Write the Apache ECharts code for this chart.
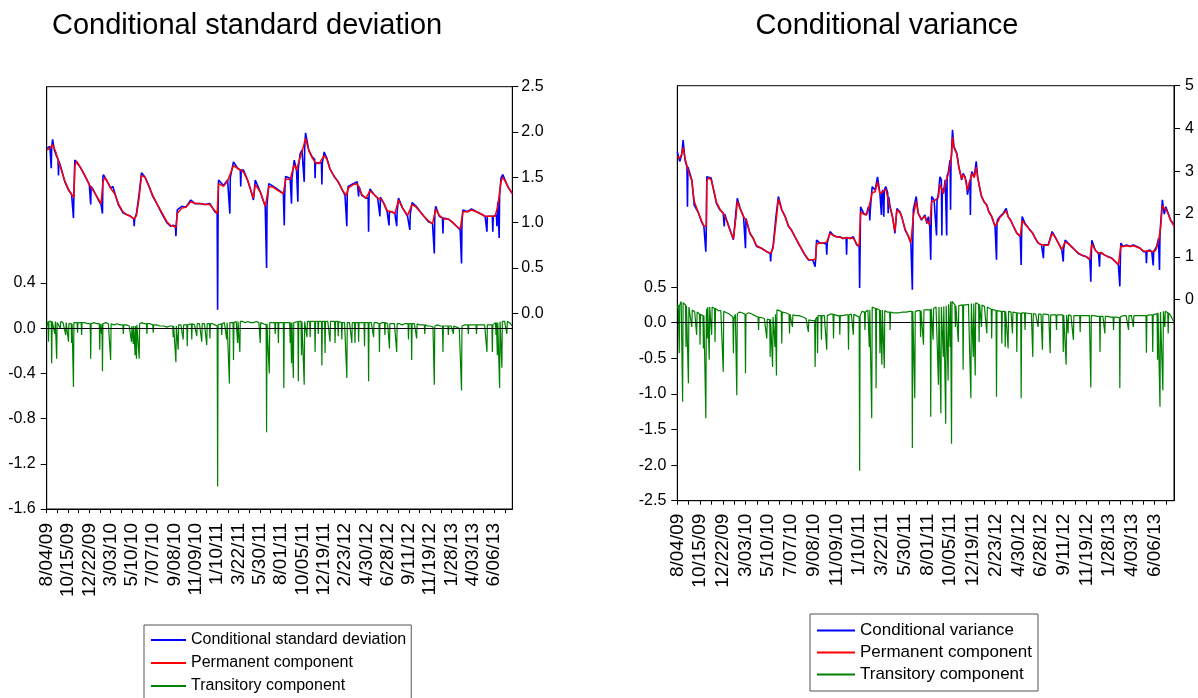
<!DOCTYPE html>
<html>
<head>
<meta charset="utf-8">
<script src="https://cdn.jsdelivr.net/npm/echarts@6/dist/echarts.min.js"></script>
<style>
html,body{margin:0;padding:0;background:#fff;}
#chart{width:1198px;height:698px;}
</style>
</head>
<body>
<div id="chart"></div>
<script>
// ---- x axis: observation number (trading days), labelled every 47 observations ----
const dateLabels = ['8/04/09','10/15/09','12/22/09','3/03/10','5/10/10','7/07/10','9/08/10','11/09/10',
  '1/10/11','3/22/11','5/30/11','8/01/11','10/05/11','12/19/11','2/23/12','4/30/12','6/28/12',
  '9/11/12','11/19/12','1/28/13','4/03/13','6/06/13'];
const LABEL_STEP = 47;
const LAST_OBS = 1027;

// ---- Panel 1: conditional standard deviation  [observation, value] ----
const sdCond = [[0,1.82],[7,1.84],[10,1.60],[11,1.84],[13,1.92],[17,1.80],[22,1.73],[25,1.70],[26,1.52],[27,1.68],[33,1.58],[40,1.45],[48,1.36],[55,1.31],[58,1.30],[59,1.05],[60,1.30],[62,1.69],[66,1.70],[73,1.62],[85,1.51],[94,1.42],[96,1.41],[97,1.20],[98,1.40],[103,1.36],[114,1.25],[120,1.20],[122,1.18],[123,1.10],[124,1.50],[125,1.53],[132,1.47],[141,1.38],[146,1.40],[151,1.31],[158,1.20],[168,1.11],[176,1.09],[185,1.07],[192,1.04],[193,0.96],[194,1.04],[198,1.10],[204,1.32],[209,1.55],[217,1.50],[224,1.42],[234,1.29],[243,1.21],[254,1.10],[265,1.00],[273,0.96],[279,0.97],[284,0.96],[285,0.85],[286,0.96],[288,1.14],[298,1.18],[307,1.17],[318,1.25],[327,1.21],[338,1.21],[349,1.20],[360,1.21],[371,1.12],[376,1.10],[377,0.04],[378,1.10],[379,1.47],[390,1.41],[399,1.47],[403,1.47],[404,1.10],[405,1.50],[412,1.67],[421,1.60],[427,1.58],[428,1.40],[429,1.58],[434,1.58],[443,1.47],[450,1.36],[456,1.25],[460,1.47],[471,1.34],[482,1.18],[484,1.18],[485,0.50],[486,1.20],[490,1.43],[500,1.40],[511,1.36],[522,1.32],[523,1.32],[524,0.97],[525,1.32],[527,1.51],[537,1.49],[539,1.49],[540,1.21],[541,1.49],[546,1.69],[551,1.58],[553,1.58],[554,1.23],[555,1.60],[559,1.76],[563,1.80],[567,1.80],[568,1.45],[569,1.82],[571,1.99],[578,1.80],[585,1.73],[591,1.70],[592,1.49],[593,1.66],[601,1.66],[606,1.66],[607,1.42],[608,1.66],[612,1.78],[618,1.71],[625,1.59],[634,1.51],[643,1.45],[652,1.36],[658,1.30],[661,1.30],[662,0.96],[663,1.32],[665,1.40],[676,1.43],[685,1.45],[687,1.43],[688,1.29],[689,1.40],[695,1.30],[704,1.27],[709,1.27],[710,0.90],[711,1.30],[713,1.37],[722,1.31],[730,1.27],[734,1.27],[735,1.07],[736,1.28],[744,1.21],[751,1.12],[754,1.12],[755,0.97],[756,1.12],[761,1.12],[768,1.10],[771,1.10],[772,0.96],[773,1.12],[776,1.27],[785,1.16],[796,1.07],[800,1.07],[801,0.92],[802,1.10],[806,1.22],[815,1.18],[824,1.12],[832,1.07],[842,1.01],[851,0.99],[854,0.99],[855,0.66],[856,1.10],[858,1.18],[866,1.07],[873,1.05],[874,0.88],[875,1.05],[876,1.04],[886,1.04],[896,1.00],[904,0.96],[912,0.92],[914,0.92],[915,0.55],[916,1.00],[918,1.14],[928,1.12],[937,1.15],[948,1.12],[960,1.09],[967,1.07],[970,1.07],[971,0.90],[972,1.07],[978,1.07],[983,1.07],[984,0.90],[985,1.07],[989,1.08],[992,1.08],[993,0.96],[994,1.10],[995,1.23],[997,1.23],[998,0.83],[999,1.30],[1002,1.49],[1006,1.53],[1011,1.47],[1018,1.39],[1027,1.32]];

const sdPerm = [[0,1.80],[7,1.82],[13,1.86],[20,1.78],[27,1.66],[33,1.57],[40,1.46],[48,1.37],[55,1.31],[60,1.28],[62,1.62],[66,1.68],[73,1.62],[85,1.51],[94,1.42],[103,1.35],[114,1.26],[120,1.21],[124,1.45],[128,1.50],[132,1.47],[141,1.38],[151,1.31],[158,1.21],[168,1.12],[176,1.09],[185,1.07],[193,1.04],[198,1.08],[204,1.28],[209,1.52],[217,1.50],[224,1.42],[234,1.30],[243,1.21],[254,1.11],[265,1.01],[273,0.97],[279,0.96],[285,0.95],[288,1.10],[298,1.16],[307,1.17],[318,1.23],[327,1.21],[338,1.21],[349,1.20],[360,1.20],[371,1.13],[376,1.10],[379,1.43],[390,1.40],[399,1.46],[412,1.63],[421,1.60],[434,1.56],[443,1.47],[450,1.36],[456,1.27],[460,1.42],[471,1.34],[482,1.18],[486,1.18],[490,1.40],[500,1.39],[511,1.35],[522,1.32],[527,1.48],[537,1.48],[546,1.64],[551,1.58],[559,1.72],[563,1.78],[571,1.93],[578,1.80],[585,1.72],[593,1.66],[601,1.65],[612,1.74],[618,1.70],[625,1.59],[634,1.51],[643,1.45],[652,1.36],[661,1.30],[665,1.38],[676,1.42],[685,1.43],[695,1.31],[704,1.27],[713,1.35],[722,1.31],[730,1.27],[737,1.26],[744,1.21],[751,1.13],[761,1.12],[768,1.10],[776,1.25],[785,1.16],[796,1.08],[806,1.20],[815,1.17],[824,1.12],[832,1.07],[842,1.02],[851,0.99],[858,1.15],[866,1.08],[876,1.04],[886,1.04],[896,1.00],[904,0.96],[912,0.93],[918,1.12],[928,1.12],[937,1.14],[948,1.12],[960,1.09],[967,1.07],[978,1.07],[989,1.07],[995,1.18],[1002,1.45],[1006,1.50],[1011,1.46],[1018,1.39],[1027,1.32]];

const sdTrans = [[0,0.02],[3,0.06],[4,-0.12],[5,0.06],[8,0.07],[10,0.06],[11,-0.31],[12,0.06],[16,0.05],[18,-0.05],[19,0.06],[21,0.05],[22,-0.27],[23,0.05],[27,0.06],[30,0.00],[31,0.06],[36,0.05],[40,0.04],[42,-0.06],[43,0.05],[47,0.04],[48,-0.12],[49,0.04],[54,0.04],[55,-0.13],[56,0.04],[58,0.03],[59,-0.52],[60,0.05],[64,0.06],[67,0.05],[68,-0.04],[69,0.05],[73,0.05],[76,0.05],[77,-0.06],[78,0.05],[84,0.05],[90,0.04],[96,0.04],[97,-0.27],[98,0.04],[104,0.05],[110,0.04],[116,0.04],[117,-0.19],[118,0.04],[120,0.04],[121,-0.05],[122,0.04],[123,-0.38],[124,0.04],[130,0.05],[136,0.04],[140,0.04],[141,-0.28],[142,0.04],[148,0.03],[155,0.04],[162,0.03],[168,0.03],[169,-0.05],[170,0.03],[176,0.03],[182,0.02],[186,0.02],[187,-0.12],[188,0.02],[190,0.02],[191,-0.14],[192,0.02],[194,0.02],[195,-0.24],[196,0.02],[197,0.02],[198,-0.27],[199,0.03],[203,0.03],[204,-0.27],[205,0.04],[210,0.05],[215,0.04],[220,0.04],[221,-0.05],[222,0.04],[228,0.04],[234,0.03],[235,-0.04],[236,0.03],[242,0.03],[250,0.02],[258,0.02],[265,0.01],[272,0.02],[278,0.02],[279,-0.08],[280,0.02],[284,0.02],[285,-0.30],[286,0.02],[289,0.02],[290,-0.19],[291,0.03],[296,0.03],[300,0.03],[301,-0.10],[302,0.03],[306,0.03],[309,0.03],[310,-0.16],[311,0.03],[315,0.04],[319,0.04],[320,-0.10],[321,0.04],[326,0.03],[330,0.03],[331,-0.07],[332,0.04],[337,0.04],[341,0.04],[342,-0.12],[343,0.04],[348,0.04],[352,0.04],[353,-0.15],[354,0.04],[359,0.04],[360,-0.09],[361,0.04],[366,0.04],[371,0.03],[376,0.02],[377,-1.40],[378,0.03],[382,0.04],[385,0.04],[386,-0.06],[387,0.04],[392,0.05],[396,0.05],[397,-0.10],[398,0.05],[402,0.05],[403,-0.49],[404,0.05],[408,0.05],[411,0.05],[412,-0.28],[413,0.05],[418,0.06],[420,0.06],[421,-0.13],[422,0.06],[425,0.06],[426,-0.21],[427,0.06],[432,0.06],[438,0.05],[444,0.06],[450,0.05],[456,0.05],[462,0.06],[468,0.05],[470,0.05],[471,-0.13],[472,0.05],[478,0.04],[484,0.03],[485,-0.92],[486,0.04],[490,0.05],[491,-0.40],[492,0.05],[498,0.05],[503,0.05],[504,-0.05],[505,0.05],[510,0.05],[511,-0.13],[512,0.05],[517,0.05],[522,0.05],[523,-0.53],[524,0.05],[530,0.05],[536,0.05],[537,-0.13],[538,0.05],[539,0.05],[540,-0.31],[541,0.05],[543,0.05],[544,-0.44],[545,0.05],[548,0.06],[554,0.06],[555,-0.47],[556,0.06],[561,0.06],[562,-0.24],[563,0.06],[567,0.06],[568,-0.50],[569,0.06],[573,0.06],[574,-0.08],[575,0.06],[580,0.06],[581,-0.08],[582,0.06],[586,0.07],[591,0.06],[592,-0.21],[593,0.06],[598,0.06],[599,-0.05],[600,0.06],[606,0.06],[607,-0.33],[608,0.06],[613,0.06],[614,-0.22],[615,0.06],[620,0.06],[624,0.06],[625,-0.12],[626,0.06],[630,0.06],[635,0.06],[636,-0.13],[637,0.06],[642,0.06],[643,-0.07],[644,0.06],[650,0.05],[651,-0.10],[652,0.05],[657,0.05],[661,0.05],[662,-0.44],[663,0.05],[668,0.05],[672,0.05],[673,-0.13],[674,0.05],[679,0.05],[680,-0.13],[681,0.05],[687,0.05],[688,-0.12],[689,0.05],[695,0.05],[700,0.05],[701,-0.16],[702,0.05],[706,0.05],[709,0.05],[710,-0.47],[711,0.05],[716,0.05],[720,0.05],[721,-0.08],[722,0.05],[728,0.05],[733,0.04],[734,-0.21],[735,0.04],[740,0.05],[745,0.05],[746,-0.06],[747,0.05],[752,0.04],[755,0.04],[756,-0.18],[757,0.04],[762,0.04],[767,0.04],[771,0.04],[772,-0.21],[773,0.04],[778,0.04],[784,0.03],[790,0.04],[797,0.04],[798,-0.10],[799,0.04],[804,0.04],[805,-0.28],[806,0.04],[811,0.04],[815,0.04],[816,-0.09],[817,0.04],[822,0.03],[828,0.03],[833,0.03],[834,-0.05],[835,0.03],[840,0.02],[846,0.02],[852,0.01],[854,0.01],[855,-0.50],[856,0.02],[862,0.03],[868,0.02],[873,0.02],[874,-0.21],[875,0.02],[880,0.02],[885,0.02],[886,-0.06],[887,0.02],[892,0.02],[896,0.02],[897,-0.05],[898,0.02],[904,0.01],[910,0.00],[914,0.00],[915,-0.55],[916,0.02],[922,0.03],[929,0.03],[930,-0.05],[931,0.03],[937,0.03],[942,0.03],[947,0.03],[948,-0.05],[949,0.03],[955,0.03],[961,0.03],[966,0.03],[970,0.03],[971,-0.21],[972,0.03],[977,0.03],[982,0.03],[983,-0.21],[984,0.03],[990,0.05],[991,-0.06],[992,0.05],[993,0.05],[994,-0.24],[995,0.05],[998,0.05],[999,-0.53],[1000,0.06],[1003,0.06],[1004,-0.35],[1005,0.06],[1010,0.06],[1014,0.06],[1015,-0.05],[1016,0.06],[1021,0.05],[1027,0.02]];

// ---- Panel 2: conditional variance  [observation, value] ----
const varCond = [[0,3.46],[5,3.23],[9,3.38],[12,3.73],[16,3.26],[20,3.10],[21,2.17],[22,3.10],[23,3.07],[30,2.80],[35,2.21],[44,2.02],[50,1.82],[55,1.71],[58,1.70],[59,1.12],[60,1.70],[61,2.87],[64,2.91],[70,2.84],[75,2.56],[81,2.25],[88,2.10],[95,2.02],[96,2.00],[97,1.71],[98,2.00],[102,1.86],[109,1.63],[116,1.40],[121,2.02],[124,2.37],[130,2.13],[137,1.94],[140,1.92],[141,1.20],[142,1.90],[143,1.86],[150,1.55],[157,1.43],[164,1.24],[174,1.20],[185,1.12],[192,1.08],[193,0.89],[194,1.08],[198,1.24],[204,1.94],[209,2.41],[216,2.10],[223,1.94],[230,1.71],[236,1.63],[243,1.47],[254,1.24],[264,1.04],[271,0.93],[280,0.93],[284,0.93],[285,0.77],[286,0.95],[288,1.39],[295,1.32],[302,1.32],[308,1.30],[309,1.05],[310,1.32],[316,1.59],[322,1.51],[329,1.47],[336,1.47],[343,1.43],[349,1.45],[350,1.05],[351,1.45],[357,1.43],[364,1.47],[371,1.28],[376,1.24],[377,0.27],[378,1.24],[379,2.17],[385,2.02],[391,1.98],[395,2.17],[397,2.10],[398,1.85],[399,2.10],[403,2.64],[409,2.56],[414,2.87],[419,2.48],[421,2.48],[422,1.98],[423,2.50],[425,2.56],[427,1.94],[428,2.56],[431,2.64],[435,2.50],[436,2.02],[437,2.40],[440,2.17],[445,1.94],[450,1.55],[454,2.13],[460,2.06],[464,1.94],[471,1.63],[478,1.47],[483,1.32],[485,1.30],[486,0.23],[487,1.40],[488,2.10],[494,2.41],[498,2.02],[505,1.86],[512,1.98],[516,1.78],[519,1.94],[522,1.71],[524,0.93],[525,1.80],[526,2.41],[531,2.33],[535,2.30],[536,1.50],[537,2.30],[540,2.48],[543,2.87],[546,2.80],[547,1.50],[548,2.60],[550,2.48],[554,2.80],[556,2.80],[557,1.50],[558,2.90],[560,2.95],[564,3.26],[565,2.10],[566,3.30],[567,3.42],[569,3.97],[572,3.58],[578,3.42],[582,3.11],[588,2.80],[591,2.95],[595,2.87],[598,2.72],[600,2.45],[605,2.80],[606,1.98],[607,2.85],[609,2.99],[614,2.87],[618,3.23],[621,2.87],[626,2.56],[629,2.41],[634,2.29],[640,2.21],[644,2.06],[650,1.94],[657,1.71],[659,1.71],[660,0.93],[661,1.80],[662,1.86],[667,1.94],[674,2.02],[680,2.13],[684,1.94],[689,1.86],[695,1.71],[702,1.55],[709,1.47],[710,1.45],[711,0.81],[712,1.60],[713,1.94],[719,1.78],[724,1.71],[729,1.63],[735,1.55],[740,1.43],[746,1.32],[753,1.28],[756,1.28],[757,0.97],[758,1.28],[760,1.28],[767,1.28],[775,1.59],[781,1.47],[788,1.32],[795,1.16],[797,1.16],[798,0.89],[799,1.20],[802,1.39],[808,1.32],[815,1.24],[822,1.16],[829,1.08],[836,1.04],[846,1.00],[853,0.93],[854,0.93],[855,0.42],[856,1.00],[857,1.39],[864,1.16],[871,1.08],[872,1.08],[873,0.77],[874,1.10],[877,1.12],[884,1.04],[891,1.00],[898,0.97],[905,0.89],[912,0.81],[914,0.80],[915,0.31],[916,0.90],[917,1.32],[922,1.24],[929,1.28],[936,1.24],[943,1.28],[950,1.24],[957,1.20],[964,1.12],[969,1.12],[970,0.85],[971,1.12],[976,1.16],[981,1.12],[983,1.12],[984,0.80],[985,1.12],[988,1.16],[991,1.24],[995,1.43],[996,1.43],[997,0.69],[998,1.50],[999,1.71],[1003,2.33],[1005,2.13],[1007,2.00],[1010,2.17],[1015,2.02],[1020,1.86],[1027,1.74]];

const varPerm = [[0,3.35],[5,3.30],[9,3.40],[12,3.55],[16,3.30],[23,3.00],[30,2.78],[35,2.30],[44,2.02],[50,1.85],[55,1.72],[60,1.72],[61,2.75],[64,2.85],[70,2.80],[75,2.58],[81,2.28],[88,2.12],[95,2.02],[102,1.85],[109,1.62],[116,1.42],[121,1.90],[124,2.30],[130,2.12],[137,1.94],[143,1.84],[150,1.56],[157,1.43],[164,1.26],[174,1.20],[185,1.12],[193,1.08],[198,1.20],[204,1.80],[209,2.35],[216,2.10],[223,1.94],[230,1.72],[236,1.62],[243,1.48],[254,1.25],[264,1.05],[271,0.94],[280,0.93],[286,0.95],[288,1.30],[295,1.32],[302,1.32],[309,1.35],[316,1.55],[322,1.50],[329,1.47],[336,1.46],[343,1.43],[350,1.45],[357,1.43],[364,1.44],[371,1.30],[376,1.25],[379,2.05],[385,2.00],[391,1.98],[395,2.10],[403,2.50],[409,2.52],[414,2.75],[419,2.48],[425,2.52],[431,2.58],[440,2.15],[445,1.92],[450,1.60],[454,2.10],[460,2.04],[464,1.94],[471,1.65],[478,1.48],[483,1.33],[486,1.30],[488,1.95],[494,2.30],[498,2.02],[505,1.88],[512,1.95],[516,1.82],[522,1.75],[526,2.30],[531,2.30],[540,2.40],[543,2.70],[550,2.48],[554,2.72],[560,2.92],[564,3.15],[567,3.35],[569,3.80],[572,3.55],[578,3.40],[582,3.10],[588,2.82],[591,2.92],[595,2.85],[600,2.55],[605,2.78],[609,2.95],[614,2.85],[618,3.10],[621,2.87],[626,2.58],[629,2.42],[634,2.30],[640,2.20],[644,2.06],[650,1.95],[657,1.72],[662,1.80],[667,1.92],[674,2.00],[680,2.08],[684,1.94],[689,1.86],[695,1.72],[702,1.56],[709,1.48],[713,1.85],[719,1.76],[724,1.70],[729,1.63],[735,1.55],[740,1.44],[746,1.33],[753,1.28],[760,1.27],[767,1.27],[775,1.55],[781,1.46],[788,1.32],[795,1.17],[802,1.35],[808,1.31],[815,1.24],[822,1.16],[829,1.09],[836,1.04],[846,1.00],[853,0.94],[857,1.30],[864,1.16],[871,1.08],[877,1.10],[884,1.04],[891,1.00],[898,0.97],[905,0.90],[912,0.82],[917,1.25],[922,1.24],[929,1.26],[936,1.24],[943,1.26],[950,1.23],[957,1.20],[964,1.13],[976,1.14],[981,1.12],[988,1.14],[991,1.20],[995,1.38],[999,1.65],[1003,2.20],[1005,2.15],[1010,2.12],[1015,2.00],[1020,1.85],[1027,1.72]];

const varTrans = [[0,0.20],[2,0.25],[3,-0.10],[4,-0.43],[5,0.25],[8,0.30],[10,0.28],[11,-1.11],[12,0.28],[15,0.27],[17,0.25],[18,-0.34],[19,0.24],[22,0.22],[23,-0.85],[24,0.22],[28,0.20],[30,-0.06],[31,0.18],[36,0.15],[39,0.15],[40,-0.17],[41,0.15],[46,0.12],[47,-0.31],[48,0.12],[53,0.10],[54,-0.36],[55,0.10],[58,0.08],[59,-1.34],[60,0.10],[61,0.20],[62,-0.22],[63,0.22],[65,0.22],[66,-0.52],[67,0.22],[70,0.24],[71,-0.17],[72,0.22],[77,0.20],[78,-0.27],[79,0.20],[85,0.17],[90,0.17],[94,0.16],[95,-0.69],[96,0.16],[102,0.14],[108,0.12],[112,0.10],[115,0.08],[116,-0.43],[117,0.05],[120,0.12],[122,0.10],[123,-1.02],[124,0.12],[128,0.15],[134,0.14],[140,0.12],[141,-0.71],[142,0.12],[148,0.14],[155,0.12],[160,0.10],[167,0.08],[168,-0.10],[169,0.08],[175,0.07],[180,0.06],[184,0.05],[185,-0.22],[186,0.05],[191,0.04],[192,-0.48],[193,0.05],[196,0.05],[197,-0.62],[198,0.08],[201,0.10],[202,-0.34],[203,0.12],[204,0.14],[205,-0.74],[206,0.18],[210,0.18],[215,0.16],[216,-0.29],[217,0.15],[224,0.14],[231,0.12],[232,-0.15],[233,0.12],[237,0.11],[238,-0.06],[239,0.11],[245,0.10],[252,0.10],[260,0.08],[266,0.06],[270,0.04],[271,-0.13],[272,0.04],[278,0.03],[284,0.03],[285,-0.62],[286,0.05],[289,0.08],[290,-0.43],[291,0.10],[297,0.10],[298,-0.24],[299,0.10],[304,0.10],[308,0.09],[309,-0.38],[310,0.10],[316,0.12],[322,0.12],[323,-0.22],[324,0.12],[330,0.10],[335,0.10],[336,-0.17],[337,0.10],[342,0.10],[348,0.11],[353,0.11],[354,-0.38],[355,0.11],[360,0.12],[363,0.12],[364,-0.17],[365,0.12],[370,0.10],[376,0.08],[377,-2.08],[378,0.10],[382,0.16],[387,0.15],[388,-0.10],[389,0.15],[394,0.18],[396,0.18],[397,-0.34],[398,0.18],[401,0.20],[402,-1.34],[403,0.22],[407,0.22],[410,0.20],[411,-0.92],[412,0.20],[416,0.18],[418,0.18],[419,-0.43],[420,0.18],[422,0.18],[423,-0.59],[424,0.18],[427,0.17],[428,-0.64],[429,0.17],[434,0.15],[439,0.15],[440,-0.10],[441,0.15],[446,0.14],[452,0.14],[458,0.14],[466,0.15],[474,0.15],[480,0.16],[485,0.16],[486,-1.76],[487,0.16],[490,0.16],[491,-1.06],[492,0.16],[497,0.17],[502,0.17],[503,-0.20],[504,0.17],[508,0.18],[509,-0.31],[510,0.18],[516,0.18],[523,0.18],[524,-1.32],[525,0.20],[528,0.20],[529,-0.24],[530,0.20],[535,0.22],[539,0.22],[540,-0.87],[541,0.22],[544,0.22],[545,-1.27],[546,0.22],[549,0.23],[550,-0.48],[551,0.23],[554,0.24],[555,-1.42],[556,0.24],[559,0.25],[560,-0.81],[561,0.26],[563,0.28],[564,-0.34],[565,0.30],[566,0.30],[567,-1.70],[568,0.30],[571,0.28],[574,0.25],[575,-0.06],[576,0.24],[580,0.24],[581,-0.27],[582,0.24],[586,0.25],[590,0.25],[591,-0.66],[592,0.25],[597,0.25],[602,0.26],[606,0.26],[607,-1.06],[608,0.27],[611,0.27],[612,-0.48],[613,0.27],[615,0.28],[616,-0.74],[617,0.28],[620,0.27],[623,0.26],[624,-0.27],[625,0.26],[628,0.25],[629,-0.06],[630,0.25],[635,0.23],[639,0.22],[640,-0.15],[641,0.22],[645,0.20],[649,0.19],[650,-0.22],[651,0.19],[655,0.18],[659,0.17],[660,-1.04],[661,0.17],[665,0.17],[670,0.16],[671,-0.29],[672,0.16],[677,0.16],[678,-0.34],[679,0.16],[683,0.16],[684,-0.36],[685,0.16],[690,0.15],[692,0.15],[693,-0.15],[694,0.15],[698,0.15],[701,0.14],[702,-0.41],[703,0.14],[707,0.14],[710,0.13],[711,-1.06],[712,0.14],[716,0.14],[718,0.14],[719,-0.10],[720,0.14],[726,0.13],[732,0.13],[734,0.13],[735,-0.48],[736,0.13],[741,0.12],[745,0.12],[746,-0.06],[747,0.12],[752,0.12],[754,0.12],[755,-0.38],[756,0.12],[762,0.12],[768,0.11],[770,0.11],[771,-0.43],[772,0.11],[778,0.11],[783,0.11],[784,-0.10],[785,0.11],[790,0.11],[797,0.11],[798,-0.41],[799,0.11],[803,0.11],[804,-0.59],[805,0.11],[807,0.11],[808,-0.15],[809,0.11],[814,0.10],[818,0.10],[819,-0.24],[820,0.10],[826,0.10],[832,0.10],[833,-0.13],[834,0.10],[840,0.10],[846,0.10],[852,0.10],[854,0.10],[855,-0.91],[856,0.10],[862,0.10],[868,0.09],[873,0.09],[874,-0.41],[875,0.09],[880,0.09],[883,0.09],[884,-0.15],[885,0.09],[890,0.09],[896,0.08],[901,0.08],[902,-0.10],[903,0.08],[908,0.08],[914,0.07],[915,-0.92],[916,0.08],[922,0.10],[928,0.10],[932,0.10],[933,-0.10],[934,0.10],[939,0.10],[942,0.10],[943,-0.06],[944,0.10],[950,0.10],[956,0.10],[962,0.10],[969,0.10],[970,-0.42],[971,0.10],[976,0.11],[982,0.11],[983,-0.41],[984,0.11],[988,0.12],[992,0.13],[993,-0.52],[994,0.14],[997,0.15],[998,-1.18],[999,0.15],[1003,0.15],[1004,-0.95],[1005,0.16],[1007,0.16],[1008,-0.06],[1009,0.16],[1014,0.14],[1015,-0.15],[1016,0.14],[1020,0.10],[1024,0.05],[1027,0.00]];

// ---- axis tick label values ----
const sdTransTicks = [-1.6, -1.2, -0.8, -0.4, 0.0, 0.4];
const sdCondTicks  = [0.0, 0.5, 1.0, 1.5, 2.0, 2.5];
const varTransTicks = [-2.5, -2.0, -1.5, -1.0, -0.5, 0.0, 0.5];
const varCondTicks  = [0, 1, 2, 3, 4, 5];

const FONT = "'Liberation Sans', Arial, Helvetica, sans-serif";
const BLUE = '#0000ff', RED = '#ff0000', GREEN = '#008000';

function xAxisFor(gridIndex, fontSize, margin) {
  const labelVals = dateLabels.map((_, i) => i * LABEL_STEP);
  const tickVals = [];
  for (let v = 0; v <= LAST_OBS; v += LABEL_STEP / 2) tickVals.push(v);
  return {
    type: 'value', gridIndex, min: 0, max: LAST_OBS,
    axisLine: { show: true, onZero: false, lineStyle: { color: '#000', width: 1 } },
    axisTick: { show: true, customValues: tickVals, length: 4, lineStyle: { color: '#000' } },
    axisLabel: {
      customValues: labelVals, rotate: 90, fontSize, fontFamily: FONT, color: '#000', margin,
      formatter: v => dateLabels[Math.round(v / LABEL_STEP)] || ''
    },
    splitLine: { show: false }
  };
}
function yAxisFor(gridIndex, position, min, max, ticks, decimals, margin) {
  return {
    type: 'value', gridIndex, position, min, max,
    axisLine: { show: true, onZero: false, lineStyle: { color: '#000', width: 1 } },
    axisTick: { show: true, customValues: ticks, length: 6, lineStyle: { color: '#000' } },
    axisLabel: {
      customValues: ticks, fontSize: 16, fontFamily: FONT, color: '#000', margin,
      formatter: v => Number(v).toFixed(decimals)
    },
    splitLine: { show: false }
  };
}
function lineSeries(name, data, xi, yi, color, width, z, zeroLine) {
  const s = {
    name, type: 'line', data, xAxisIndex: xi, yAxisIndex: yi, showSymbol: false, symbol: 'none',
    lineStyle: { color, width }, itemStyle: { color }, z, animation: false
  };
  if (zeroLine) {
    s.markLine = {
      silent: true, symbol: 'none', animation: false, label: { show: false },
      lineStyle: { color: '#000', width: 1, type: 'solid' }, data: [{ yAxis: 0 }]
    };
  }
  return s;
}

const chart = echarts.init(document.getElementById('chart'), null, { renderer: 'canvas' });
chart.setOption({
  animation: false,
  backgroundColor: '#fff',
  title: [
    { text: 'Conditional standard deviation', left: 47, top: 6,
      textStyle: { fontSize: 29, fontWeight: 'normal', color: '#000', fontFamily: FONT } },
    { text: 'Conditional variance', left: 882, top: 6, textAlign: 'center',
      textStyle: { fontSize: 29, fontWeight: 'normal', color: '#000', fontFamily: FONT } }
  ],
  grid: [
    { left: 46.7, top: 86.7, width: 465.6, height: 422.3, show: true, borderColor: '#000', borderWidth: 1, backgroundColor: '#fff' },
    { left: 677.3, top: 85.7, width: 496.7, height: 415, show: true, borderColor: '#000', borderWidth: 1, backgroundColor: '#fff' }
  ],
  xAxis: [xAxisFor(0, 19, 14), xAxisFor(1, 19, 13)],
  yAxis: [
    yAxisFor(0, 'left', -1.6, 2.138, sdTransTicks, 1, 11),
    yAxisFor(0, 'right', -2.16, 2.5, sdCondTicks, 1, 9),
    yAxisFor(1, 'left', -2.5, 3.33, varTransTicks, 1, 11),
    yAxisFor(1, 'right', -4.70, 5, varCondTicks, 0, 11)
  ],
  legend: [
    { data: ['Conditional standard deviation', 'Permanent component', 'Transitory component'],
      orient: 'vertical', left: 144, top: 625, height: 90, icon: 'rect', itemWidth: 35, itemHeight: 2, itemGap: 7,
      padding: [7, 5, 8, 7], borderColor: '#555', borderWidth: 1, selectedMode: false,
      textStyle: { fontSize: 16, color: '#000', fontFamily: FONT } },
    { data: ['Conditional variance', 'Permanent component', 'Transitory component'],
      orient: 'vertical', left: 810, top: 614, icon: 'rect', itemWidth: 38, itemHeight: 2, itemGap: 5,
      padding: [8, 6, 8, 7], borderColor: '#555', borderWidth: 1, selectedMode: false,
      textStyle: { fontSize: 17, color: '#000', fontFamily: FONT } }
  ],
  series: [
    lineSeries('Conditional standard deviation', sdCond, 0, 1, BLUE, 1.6, 2, false),
    lineSeries('Permanent component', sdPerm, 0, 1, RED, 1.5, 3, false),
    lineSeries('Transitory component', sdTrans, 0, 0, GREEN, 1.2, 2, true),
    lineSeries('Conditional variance', varCond, 1, 3, BLUE, 1.6, 2, false),
    lineSeries('Permanent component', varPerm, 1, 3, RED, 1.5, 3, false),
    lineSeries('Transitory component', varTrans, 1, 2, GREEN, 1.2, 2, true)
  ]
});
</script>
</body>
</html>
